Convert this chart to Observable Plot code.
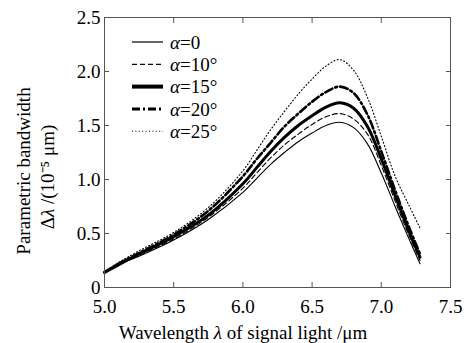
<!DOCTYPE html>
<html><head><meta charset="utf-8">
<script src="https://cdn.jsdelivr.net/npm/d3@7"></script>
<script src="https://cdn.jsdelivr.net/npm/@observablehq/plot@0.6"></script>
<style>html,body{margin:0;padding:0;background:#fff} svg text{font-family:"Liberation Serif",serif}</style>
</head><body><div id="chart"></div>
<script>
// Wavelength of signal light (µm)
const wavelength = [5.0, 5.1, 5.25, 5.5, 5.75, 6.0, 6.1, 6.2, 6.3, 6.4, 6.5, 6.6, 6.7, 6.8, 6.9, 7.0, 7.1, 7.2, 7.28];
// Parametric bandwidth (1e-5 µm) per angle
const alpha0  = [0.14, 0.21, 0.29, 0.44, 0.63, 0.88, 1.01, 1.14, 1.25, 1.35, 1.43, 1.50, 1.53, 1.48, 1.33, 1.06, 0.75, 0.45, 0.22];
const alpha10 = [0.14, 0.21, 0.30, 0.45, 0.65, 0.92, 1.06, 1.20, 1.32, 1.42, 1.51, 1.58, 1.61, 1.56, 1.42, 1.13, 0.80, 0.48, 0.25];
const alpha15 = [0.14, 0.21, 0.31, 0.47, 0.67, 0.96, 1.11, 1.26, 1.39, 1.50, 1.59, 1.67, 1.71, 1.66, 1.49, 1.19, 0.85, 0.52, 0.28];
const alpha20 = [0.14, 0.22, 0.32, 0.49, 0.71, 1.03, 1.19, 1.34, 1.49, 1.61, 1.72, 1.81, 1.86, 1.80, 1.60, 1.26, 0.90, 0.56, 0.31];
const alpha25 = [0.15, 0.23, 0.34, 0.51, 0.74, 1.08, 1.27, 1.46, 1.63, 1.79, 1.93, 2.05, 2.11, 2.01, 1.76, 1.40, 1.03, 0.76, 0.55];
const seriesNames = ["α=0", "α=10°", "α=15°", "α=20°", "α=25°"];
const xTicks = [5.0, 5.5, 6.0, 6.5, 7.0, 7.5];
const yTicks = [0, 0.5, 1.0, 1.5, 2.0, 2.5];
const xLabel = "Wavelength λ of signal light /μm";
const yLabel1 = "Parametric bandwidth";
const yLabel2 = "Δλ /(10⁻⁵ μm)";

const seriesValues = [alpha0, alpha10, alpha15, alpha20, alpha25];
const seriesStyles = [
  {strokeWidth: 1.1, dash: null, legendWidth: 1.2},
  {strokeWidth: 1.1, dash: "5,3", legendWidth: 1.2},
  {strokeWidth: 3, dash: null, legendWidth: 4},
  {strokeWidth: 2.6, dash: "8,3,2,3", legendWidth: 3},
  {strokeWidth: 1.1, dash: "1,2.4", legendWidth: 1.1}
];
const FONT = "Liberation Serif";
const FS = 19;
const M = {left: 104, right: 18, top: 17, bottom: 56};
const W = 468, H = 343;

const rows = seriesNames.flatMap((name, i) => wavelength.map((w, j) => ({name, w, v: seriesValues[i][j]})));

const lineMarks = seriesNames.map((name, i) => Plot.line(rows.filter(d => d.name === name), {
  x: "w", y: "v", stroke: "black", strokeWidth: seriesStyles[i].strokeWidth,
  strokeDasharray: seriesStyles[i].dash, curve: "catmull-rom"
}));

const plot = Plot.plot({
  width: W, height: H,
  marginLeft: M.left, marginRight: M.right, marginTop: M.top, marginBottom: M.bottom,
  style: {fontFamily: FONT, fontSize: FS + "px", background: "#fff", color: "black"},
  x: {domain: [5, 7.5]},
  y: {domain: [0, 2.5]},
  marks: [
    ...lineMarks,
    Plot.frame({stroke: "#555"}),
    Plot.text(xTicks, {x: d => d, text: d => d.toFixed(1), frameAnchor: "bottom", dy: 19, lineAnchor: "middle", fontSize: FS, fill: "black"}),
    Plot.text(yTicks, {y: d => d, text: d => d === 0 ? "0" : d.toFixed(1), frameAnchor: "left", dx: -4, textAnchor: "end", lineAnchor: "middle", fontSize: FS, fill: "black"}),
    Plot.axisX(xTicks, {anchor: "bottom", tickSize: -5, fill: "none", stroke: "#555", label: null}),
    Plot.axisX(xTicks, {anchor: "top", tickSize: -5, fill: "none", stroke: "#555", label: null}),
    Plot.axisY(yTicks, {anchor: "left", tickSize: -5, fill: "none", stroke: "#555", label: null}),
    Plot.axisY(yTicks, {anchor: "right", tickSize: -5, fill: "none", stroke: "#555", label: null})
  ]
});

// italicize Greek symbols in text
function italicize(el) {
  const s = el.textContent;
  if (!/[αλ]/.test(s)) return;
  const sel = d3.select(el);
  sel.text(null);
  s.split(/([αλ])/).filter(p => p.length).forEach(p => {
    const t = sel.append("tspan").text(p);
    if (p === "α" || p === "λ") t.attr("font-style", "italic");
  });
}

const svg = d3.select(plot);

// axis titles
const titles = svg.append("g").attr("font-family", FONT).attr("font-size", FS).attr("fill", "black");
italicize(titles.append("text").attr("text-anchor", "middle").attr("x", 243).attr("y", 339).text(xLabel).node());
titles.append("text").attr("text-anchor", "middle").attr("dy", "0.35em")
  .attr("transform", "translate(23,171) rotate(-90)").text(yLabel1);
italicize(titles.append("text").attr("text-anchor", "middle").attr("dy", "0.35em")
  .attr("transform", "translate(47,177) rotate(-90)").text(yLabel2).node());

// legend inside the frame, top-left
const lg = svg.append("g").attr("transform", `translate(${M.left + 28},${M.top + 25})`)
  .attr("font-family", FONT).attr("font-size", FS).attr("text-anchor", "start");
seriesNames.forEach((name, i) => {
  const y = i * 22.3;
  lg.append("line").attr("x1", 0).attr("x2", 31).attr("y1", y).attr("y2", y)
    .attr("stroke", "black").attr("stroke-width", seriesStyles[i].legendWidth)
    .attr("stroke-dasharray", seriesStyles[i].dash);
  const t = lg.append("text").attr("x", 38).attr("y", y).attr("dy", "0.35em").text(name);
  italicize(t.node());
});

document.getElementById("chart").appendChild(plot);
</script>
</body></html>
